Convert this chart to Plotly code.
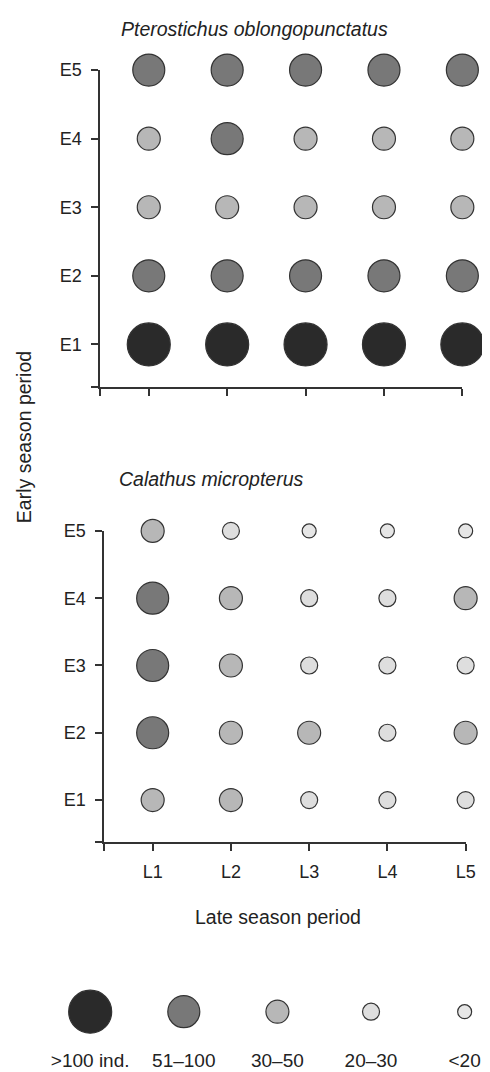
import plotly.graph_objects as go

# ---------------- data ----------------
late_periods = ["L1", "L2", "L3", "L4", "L5"]
early_periods = ["E1", "E2", "E3", "E4", "E5"]
abundance_classes = [">100 ind.", "51–100", "30–50", "20–30", "<20"]

# abundance class per cell: rows = E1..E5, columns = L1..L5
pterostichus = [
    [">100 ind.", ">100 ind.", ">100 ind.", ">100 ind.", ">100 ind."],  # E1
    ["51–100", "51–100", "51–100", "51–100", "51–100"],                  # E2
    ["30–50", "30–50", "30–50", "30–50", "30–50"],                       # E3
    ["30–50", "51–100", "30–50", "30–50", "30–50"],                      # E4
    ["51–100", "51–100", "51–100", "51–100", "51–100"],                  # E5
]
calathus = [
    ["30–50", "30–50", "20–30", "20–30", "20–30"],      # E1
    ["51–100", "30–50", "30–50", "20–30", "30–50"],     # E2
    ["51–100", "30–50", "20–30", "20–30", "20–30"],     # E3
    ["51–100", "30–50", "20–30", "20–30", "30–50"],     # E4
    ["30–50", "20–30", "<20", "<20", "<20"],            # E5
]
species_titles = ["Pterostichus oblongopunctatus", "Calathus micropterus"]

# ---------------- styles ----------------
W, H = 490, 1066
# screen placement of the figure (empirical): screen = A * fig + B
AX, BX, AY, BY = 0.981, 6.7, 0.991, 17.9
class_size = {">100 ind.": 43, "51–100": 32, "30–50": 23, "20–30": 17, "<20": 14}
class_color = {">100 ind.": "#2a2a2a", "51–100": "#787878", "30–50": "#b7b7b7",
               "20–30": "#dedede", "<20": "#e6e6e6"}
LINE = "#333333"
TXT = "#222222"
FONT = "Liberation Sans, Arial, sans-serif"


def fx(s):
    return (s - BX) / AX


def fy(s):
    return (s - BY) / AY


def px_x(s):
    return fx(s) / W


def px_y(s):
    return 1 - fy(s) / H


fig = go.Figure()


def add_grid(grid, xa, ya):
    xs, ys, sizes, colors = [], [], [], []
    for ei, row in enumerate(grid):
        for li, cls in enumerate(row):
            xs.append(li + 1)
            ys.append(ei + 1)
            sizes.append(class_size[cls])
            colors.append(class_color[cls])
    fig.add_trace(go.Scatter(
        x=xs, y=ys, mode="markers", xaxis=xa, yaxis=ya, cliponaxis=False,
        marker=dict(size=sizes, color=colors, opacity=1,
                    line=dict(color=LINE, width=1.2)),
        showlegend=False, hoverinfo="skip"))


add_grid(pterostichus, "x", "y")
add_grid(calathus, "x2", "y2")

# legend row
LEG_TOP, LEG_BOT = 990, 1070


def leg_y(s):
    return (LEG_BOT - s) / (LEG_BOT - LEG_TOP)


n = len(abundance_classes)
fig.add_trace(go.Scatter(
    x=list(range(n)), y=[leg_y(1012)] * n, mode="markers", xaxis="x3", yaxis="y3",
    cliponaxis=False,
    marker=dict(size=[class_size[c] for c in abundance_classes],
                color=[class_color[c] for c in abundance_classes], opacity=1,
                line=dict(color=LINE, width=1.2)),
    showlegend=False, hoverinfo="skip"))
fig.add_trace(go.Scatter(
    x=list(range(n)), y=[leg_y(1063)] * n, mode="text", xaxis="x3", yaxis="y3",
    cliponaxis=False, text=abundance_classes,
    textfont=dict(family=FONT, size=19, color=TXT),
    showlegend=False, hoverinfo="skip"))

RANGE_LO = 0.38
xt = [RANGE_LO] + [i + 1 for i in range(len(late_periods))]
yt = [RANGE_LO] + [i + 1 for i in range(len(early_periods))]

axis_common = dict(showline=True, linecolor=LINE, linewidth=1.5, ticks="outside",
                   ticklen=7, tickwidth=1.5, tickcolor=LINE, showgrid=False,
                   zeroline=False, range=[RANGE_LO, 5],
                   tickfont=dict(family=FONT, size=18, color=TXT))

fig.update_layout(
    width=W, height=H, margin=dict(l=0, r=0, t=0, b=0),
    paper_bgcolor="white", plot_bgcolor="white", showlegend=False,
    font=dict(family=FONT, color=TXT),
    xaxis=dict(domain=[px_x(99), px_x(461.7)], anchor="y", tickvals=xt,
               ticktext=[""] * len(xt), **axis_common),
    yaxis=dict(domain=[px_y(387), px_y(70)], anchor="x", tickvals=yt,
               ticktext=[""] + early_periods, ticklabelstandoff=6, **axis_common),
    xaxis2=dict(domain=[px_x(103), px_x(465)], anchor="y2", tickvals=xt,
                ticktext=[""] + late_periods, ticklabelstandoff=6, **axis_common),
    yaxis2=dict(domain=[px_y(842), px_y(531)], anchor="x2", tickvals=yt,
                ticktext=[""] + early_periods, ticklabelstandoff=6, **axis_common),
    xaxis3=dict(domain=[px_x(89), px_x(464)], anchor="y3", range=[0, n - 1],
                visible=False),
    yaxis3=dict(domain=[px_y(LEG_BOT), px_y(LEG_TOP)], anchor="x3", range=[0, 1],
                visible=False),
)

annots = [
    dict(text="<i>" + species_titles[0] + "</i>", x=px_x(253.5), y=1 - 11 / H, size=19.5, angle=0),
    dict(text="<i>" + species_titles[1] + "</i>", x=px_x(210), y=px_y(479), size=19.5, angle=0),
    dict(text="Late season period", x=px_x(277.5), y=px_y(917), size=19.5, angle=0),
    dict(text="Early season period", x=px_x(23.5), y=px_y(437.5), size=19.5, angle=-90),
]
for a in annots:
    fig.add_annotation(text=a["text"], x=a["x"], y=a["y"], xref="paper", yref="paper",
                       xanchor="center", yanchor="middle", showarrow=False,
                       textangle=a["angle"],
                       font=dict(family=FONT, size=a["size"], color=TXT))

fig.write_html("out.html")
